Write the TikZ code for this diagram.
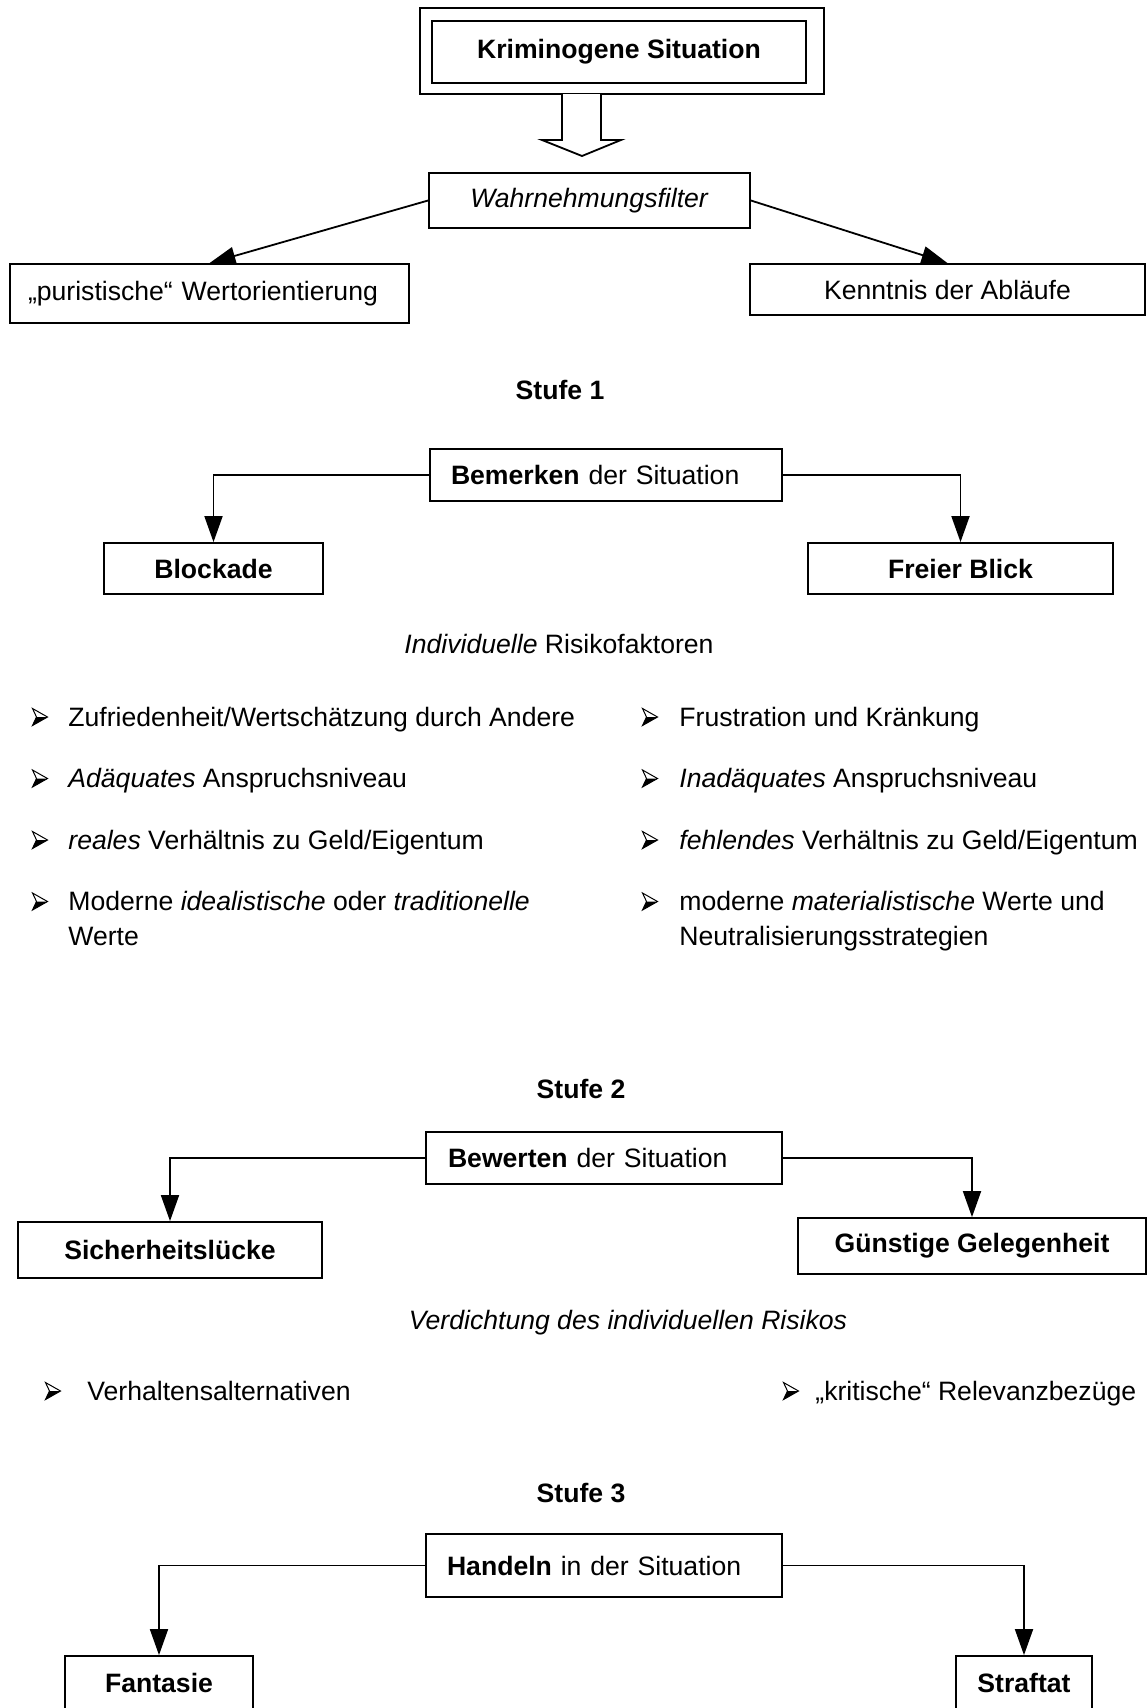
\documentclass[tikz,border=0pt]{standalone}
\usepackage{fontspec}
\setmainfont{Liberation Sans}
\usetikzlibrary{arrows.meta,calc}
\begin{document}
\begin{tikzpicture}[x=0.5pt,y=-0.5pt,
  every node/.style={font=\fontsize{13.3pt}{17.5pt}\selectfont},
  box/.style={draw,line width=0.9pt,inner sep=0pt,align=center},
  lbox/.style={draw,line width=0.9pt,inner ysep=0pt,align=left},
  conn/.style={line width=0.9pt,-{Triangle[length=13pt,width=9pt]}},
  lbl/.style={inner sep=0pt},
  btext/.style={anchor=base west,inner sep=0pt,align=left},
  bul/.pic={
    \draw[line width=0.5pt,line join=miter] (-7.5,-8.5) -- (7.5,0) -- (-7.5,8.5) -- (-3.5,0) -- cycle;
    \fill (-3.5,0) -- (7.5,0) -- (-7.5,8.5) -- cycle;
  }
]
\useasboundingbox (0,0) rectangle (1147,1708);
\clip (0,0) rectangle (1147,1708);

% top part
\node[box,minimum width=202pt,minimum height=43pt] (krimout) at (622,51) {};
\node[box,minimum width=187pt,minimum height=31pt] (krim) at (619,52) {\textbf{Kriminogene Situation}};
\draw[line width=0.9pt,line join=miter,fill=white] (562,94) -- (562,140) -- (542,140) -- (582,156) -- (621,140) -- (601,140) -- (601,94);

\node[box,minimum width=160.5pt,minimum height=27.5pt] (wahr) at (589.5,200.5) {\textit{Wahrnehmungsfilter}};
\node[lbox,text width=181.5pt,inner xsep=9pt,minimum height=29.5pt] (pur) at (209.5,293.5) {„puristische“ Wertorientierung};
\node[box,minimum width=197.5pt,minimum height=25.5pt] (ken) at (947.5,289.5) {Kenntnis der Abläufe};
\draw[conn] (wahr.west) -- (pur.north);
\draw[conn] (wahr.east) -- (ken.north);

% Stufe 1
\node[lbl] (s1) at (560,390) {\textbf{Stufe 1}};
\node[lbox,text width=155pt,inner xsep=10.5pt,minimum height=26pt] (bem) at (606,475) {\textbf{Bemerken} der Situation};
\node[box,minimum width=109.5pt,minimum height=25.5pt] (blk) at (213.5,568.5) {\textbf{Blockade}};
\node[box,minimum width=152.5pt,minimum height=25.5pt] (frei) at (960.5,568.5) {\textbf{Freier Blick}};
\draw[conn] (bem.west) -| (blk.north);
\draw[conn] (bem.east) -| (frei.north);

\node[lbl] (indiv) at (559,644) {\textit{Individuelle} Risikofaktoren};

% bullets left
\pic at (40,717) {bul};
\node[btext] (l1) at (68,726) {Zufriedenheit/Wertschätzung durch Andere};
\pic at (40,778.5) {bul};
\node[btext] (l2) at (68,787.5) {\textit{Adäquates} Anspruchsniveau};
\pic at (40,840) {bul};
\node[btext] (l3) at (68,849) {\textit{reales} Verhältnis zu Geld/Eigentum};
\pic at (40,901.5) {bul};
\node[btext] (l4) at (68,945.5) {Moderne \textit{idealistische} oder \textit{traditionelle}\\Werte};

% bullets right
\pic at (650,717) {bul};
\node[btext] (r1) at (679,726) {Frustration und Kränkung};
\pic at (650,778.5) {bul};
\node[btext] (r2) at (679,787.5) {\textit{Inadäquates} Anspruchsniveau};
\pic at (650,840) {bul};
\node[btext] (r3) at (679,849) {\textit{fehlendes} Verhältnis zu Geld/Eigentum};
\pic at (650,901.5) {bul};
\node[btext] (r4) at (679,945.5) {moderne \textit{materialistische} Werte und\\Neutralisierungsstrategien};

% Stufe 2
\node[lbl] (s2) at (581,1089) {\textbf{Stufe 2}};
\node[lbox,text width=156pt,inner xsep=11pt,minimum height=26pt] (bew) at (604,1158) {\textbf{Bewerten} der Situation};
\node[box,minimum width=152pt,minimum height=28pt] (sich) at (170,1250) {\textbf{Sicherheitslücke}};
\node[box,minimum width=174pt,minimum height=28pt] (guen) at (972,1246) {\textbf{Günstige Gelegenheit}};
\draw[conn] (bew.west) -| (sich.north);
\draw[conn] (bew.east) -| (guen.north);

\node[lbl] (verd) at (628,1323) {\textit{Verdichtung des individuellen Risikos}};
\pic at (53,1391) {bul};
\node[btext] (v1) at (87,1400) {Verhaltensalternativen};
\pic at (791,1391) {bul};
\node[btext] (v2) at (815,1400) {„kritische“ Relevanzbezüge};

% Stufe 3
\node[lbl] (s3) at (581,1493) {\textbf{Stufe 3}};
\node[lbox,text width=157pt,inner xsep=10.5pt,minimum height=31.5pt] (hand) at (604,1565.5) {\textbf{Handeln} in der Situation};
\node[box,minimum width=94pt,minimum height=27pt] (fant) at (159,1683) {\textbf{Fantasie}};
\node[box,minimum width=68pt,minimum height=27pt] (straf) at (1024,1683) {\textbf{Straftat}};
\draw[conn] (hand.west) -| (fant.north);
\draw[conn] (hand.east) -| (straf.north);
\end{tikzpicture}
\end{document}
